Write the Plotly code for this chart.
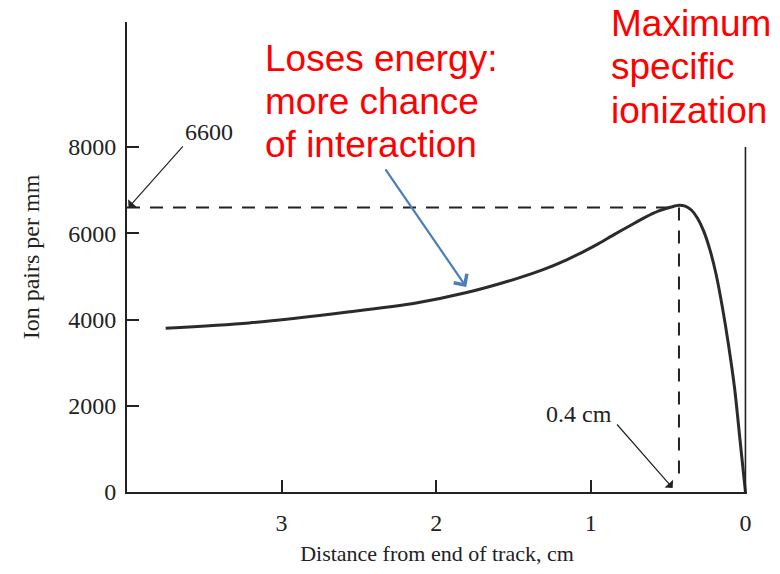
import plotly.graph_objects as go

# ---- data ----
distance_cm = [3.75, 3.21, 2.56, 2.13, 1.81, 1.48, 1.3, 1.16, 1.05, 0.95, 0.85, 0.75, 0.65,
               0.56, 0.48, 0.43, 0.39, 0.35, 0.31, 0.27, 0.23, 0.19, 0.15, 0.11, 0.07,
               0.035, 0.0]
ion_pairs_per_mm = [3800, 3920, 4180, 4385, 4620, 4950, 5170, 5380, 5570, 5760, 5970, 6170,
                    6370, 6520, 6610, 6650, 6630, 6540, 6350, 6050, 5620, 5050, 4300, 3420,
                    2400, 1200, 0]

peak_value = 6600          # "6600"
peak_distance = 0.43       # "0.4 cm"
axis_start = 4.0
end_line_top = 8000

x_tickvals = [0, 1, 2, 3]
x_ticktext = ["0", "1", "2", "3"]
y_tickvals = [0, 2000, 4000, 6000, 8000]
y_ticktext = ["0", "2000", "4000", "6000", "8000"]

x_title = "Distance from end of track, cm"
y_title = "Ion pairs per mm"
left_note = ["Loses energy:", "more chance", "of interaction"]
right_note = ["Maximum", "specific", "ionization"]

SERIF = "Liberation Serif, Times New Roman, serif"
SANS = "Liberation Sans, Arial, sans-serif"
INK = "#222222"

fig = go.Figure()

# dashed guide lines
fig.add_trace(go.Scatter(x=[axis_start, peak_distance], y=[peak_value, peak_value],
                         mode="lines", line=dict(color=INK, width=2, dash="13px,10px"),
                         hoverinfo="skip", showlegend=False))
fig.add_trace(go.Scatter(x=[peak_distance, peak_distance], y=[peak_value, 230],
                         mode="lines", line=dict(color=INK, width=2, dash="13px,10px"),
                         hoverinfo="skip", showlegend=False))
# end of track line
fig.add_trace(go.Scatter(x=[0, 0], y=[0, end_line_top], mode="lines",
                         line=dict(color=INK, width=1.6), hoverinfo="skip", showlegend=False))
# Bragg curve
fig.add_trace(go.Scatter(x=distance_cm, y=ion_pairs_per_mm, mode="lines",
                         line=dict(color="#2b2b2b", width=3, shape="spline", smoothing=0.8),
                         showlegend=False))

annotations = []
# 6600 label and arrow
annotations.append(dict(x=3.47, y=8350, xref="x", yref="y", text=str(peak_value),
                        showarrow=False, font=dict(family=SERIF, size=24, color=INK)))
annotations.append(dict(x=3.99, y=peak_value, xref="x", yref="y", ax=3.63, ay=8050,
                        axref="x", ayref="y", text="", showarrow=True, arrowhead=1,
                        arrowsize=1.6, arrowwidth=1.2, arrowcolor=INK, standoff=0))
# 0.4 cm label and arrow
annotations.append(dict(x=1.077, y=1810, xref="x", yref="y", text="0.4 cm",
                        showarrow=False, font=dict(family=SERIF, size=24, color=INK)))
annotations.append(dict(x=0.471, y=93, xref="x", yref="y", ax=0.839, ay=1600,
                        axref="x", ayref="y", text="", showarrow=True, arrowhead=1,
                        arrowsize=1.6, arrowwidth=1.2, arrowcolor=INK, standoff=0))
# blue arrow
annotations.append(dict(x=1.806, y=4756, xref="x", yref="y", ax=2.335, ay=7517,
                        axref="x", ayref="y", text="", showarrow=True, arrowhead=4,
                        arrowsize=1.4, arrowwidth=2.2, arrowcolor="#4A7EBB", standoff=0))
# red notes
for line, yv in zip(left_note, [10046, 9049, 8051]):
    annotations.append(dict(x=3.12, y=yv, xref="x", yref="y", text=line, showarrow=False,
                            xanchor="left", yanchor="middle",
                            font=dict(family=SANS, size=37, color="#FF0000")))
for line, yv in zip(right_note, [10858, 9861, 8840]):
    annotations.append(dict(x=0.884, y=yv, xref="x", yref="y", text=line, showarrow=False,
                            xanchor="left", yanchor="middle",
                            font=dict(family=SANS, size=37, color="#FF0000")))

fig.update_layout(
    width=780, height=574,
    margin=dict(l=127, r=33, t=22, b=82, pad=0),
    paper_bgcolor="white", plot_bgcolor="white",
    annotations=annotations,
    showlegend=False,
    xaxis=dict(range=[axis_start, -0.01], tickvals=x_tickvals, ticktext=x_ticktext,
               ticks="inside", ticklen=12, tickwidth=2, tickcolor=INK, automargin=False,
               showline=True, linewidth=2, linecolor=INK, showgrid=False, zeroline=False,
               tickfont=dict(family=SERIF, size=24, color=INK), ticklabelstandoff=8,
               title=dict(text=x_title, font=dict(family=SERIF, size=22, color=INK), standoff=11)),
    yaxis=dict(range=[0, 10900], tickvals=y_tickvals, ticktext=y_ticktext,
               ticks="inside", ticklen=12, tickwidth=2, tickcolor=INK, automargin=False,
               showline=True, linewidth=2, linecolor=INK, showgrid=False, zeroline=False,
               tickfont=dict(family=SERIF, size=24, color=INK), ticklabelstandoff=4,
               title=dict(text=y_title, font=dict(family=SERIF, size=24, color=INK), standoff=22)),
)

fig.write_html("out.html", config={"displayModeBar": False},
               post_script="document.body.style.margin='0';")
